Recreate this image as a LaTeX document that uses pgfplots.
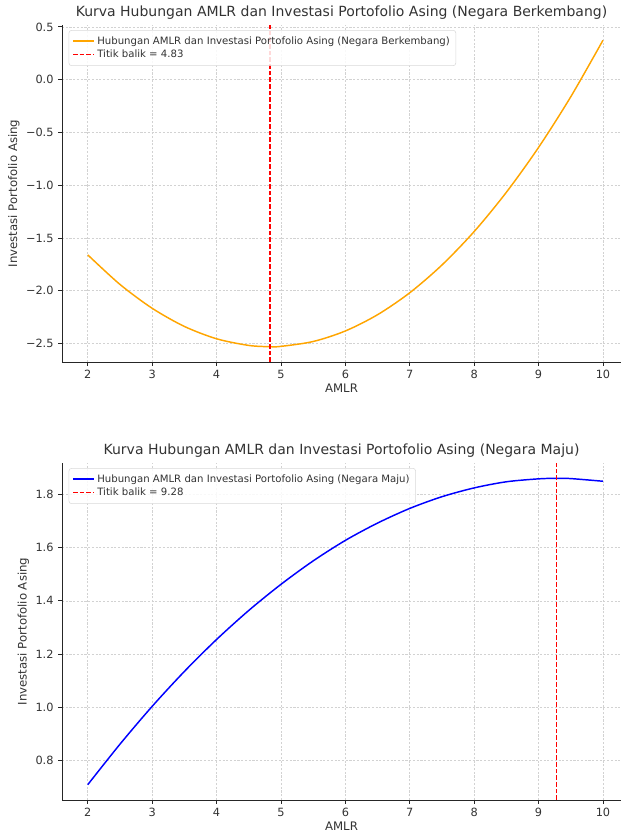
\documentclass[border=0pt]{standalone}
\usepackage{fontspec}
\setmainfont{DejaVu Sans}
\usepackage{pgfplots}
\pgfplotsset{compat=1.18}
\definecolor{mporange}{HTML}{FFA500}
\definecolor{txt}{HTML}{333333}
\pgfplotsset{
  myax/.style={
    scale only axis,
    width=419.25pt, height=252.75pt,
    axis lines*=left,
    axis line style={black!85, line width=0.6pt},
    tick style={black!85, line width=0.6pt},
    tick align=outside,
    major tick length=2.8pt,
    grid=major,
    major grid style={gray!35, dash pattern=on 1.6pt off 1.2pt, line width=0.4pt},
    xtick={2,3,...,10},
    /pgf/number format/assume math mode=true,
    ticklabel style={font=\fontsize{8.5}{10}\selectfont, text=txt},
    label style={font=\fontsize{8.8}{10}\selectfont, text=txt},
    title style={font=\fontsize{10.5}{12}\selectfont, text=txt, yshift=-5pt},
    xlabel={AMLR},
    ylabel={Investasi Portofolio Asing},
    xlabel style={yshift=3pt},
    ylabel style={yshift=-2pt},
    xmin=1.6, xmax=10.28,
    legend pos=north west,
    legend cell align=left,
    legend style={font=\fontsize{7.6}{9}\selectfont, text=txt, draw=gray!30, rounded corners=2pt, fill=white, fill opacity=0.85, text opacity=1, inner sep=2.5pt, row sep=-1pt, at={(0.012,0.985)}, anchor=north west},
    legend image code/.code={\draw[#1] (0pt,0pt) -- (0.55cm,0pt);},
  }
}
\begin{document}
\begin{tikzpicture}
\path[use as bounding box] (0,0) rectangle (466.5pt,624pt);
\begin{axis}[myax, at={(46.5pt,352.5pt)}, anchor=south west,
  ymin=-2.675, ymax=0.518,
  ytick={-2.5,-2,-1.5,-1,-0.5,0,0.5},
  yticklabels={−2.5,−2.0,−1.5,−1.0,−0.5,0.0,0.5},
  title={Kurva Hubungan AMLR dan Investasi Portofolio Asing (Negara Berkembang)}]
\addplot[mporange, line width=1.1pt, smooth] coordinates {
(2,-1.660) (2.5,-1.940) (3,-2.166) (3.5,-2.338) (4,-2.455) (4.5,-2.518) (4.83,-2.530) (5,-2.527) (5.5,-2.481) (6,-2.381) (6.5,-2.227) (7,-2.019) (7.5,-1.756) (8,-1.439) (8.5,-1.067) (9,-0.642) (9.5,-0.162) (10,0.373)};
\addlegendentry{Hubungan AMLR dan Investasi Portofolio Asing (Negara Berkembang)}
\addplot[red, line width=0.8pt, dash pattern=on 3.5pt off 1.5pt] coordinates {(4.83,-2.675) (4.83,0.518)};
\addlegendentry{Titik balik = 4.83}
\end{axis}
\begin{axis}[myax, at={(46.5pt,24pt)}, anchor=south west,
  ymin=0.6525, ymax=1.9175,
  ytick={0.8,1.0,1.2,1.4,1.6,1.8},
  yticklabels={0.8,1.0,1.2,1.4,1.6,1.8},
  title={Kurva Hubungan AMLR dan Investasi Portofolio Asing (Negara Maju)}]
\addplot[blue, line width=1.1pt, smooth] coordinates {
(2,0.710) (2.5,0.862) (3,1.004) (3.5,1.135) (4,1.255) (4.5,1.364) (5,1.462) (5.5,1.550) (6,1.627) (6.5,1.692) (7,1.747) (7.5,1.791) (8,1.824) (8.5,1.847) (9,1.858) (9.28,1.860) (9.5,1.859) (10,1.849)};
\addlegendentry{Hubungan AMLR dan Investasi Portofolio Asing (Negara Maju)}
\addplot[red, line width=0.8pt, dash pattern=on 3.5pt off 1.5pt] coordinates {(9.28,0.6525) (9.28,1.9175)};
\addlegendentry{Titik balik = 9.28}
\end{axis}
\end{tikzpicture}
\end{document}
